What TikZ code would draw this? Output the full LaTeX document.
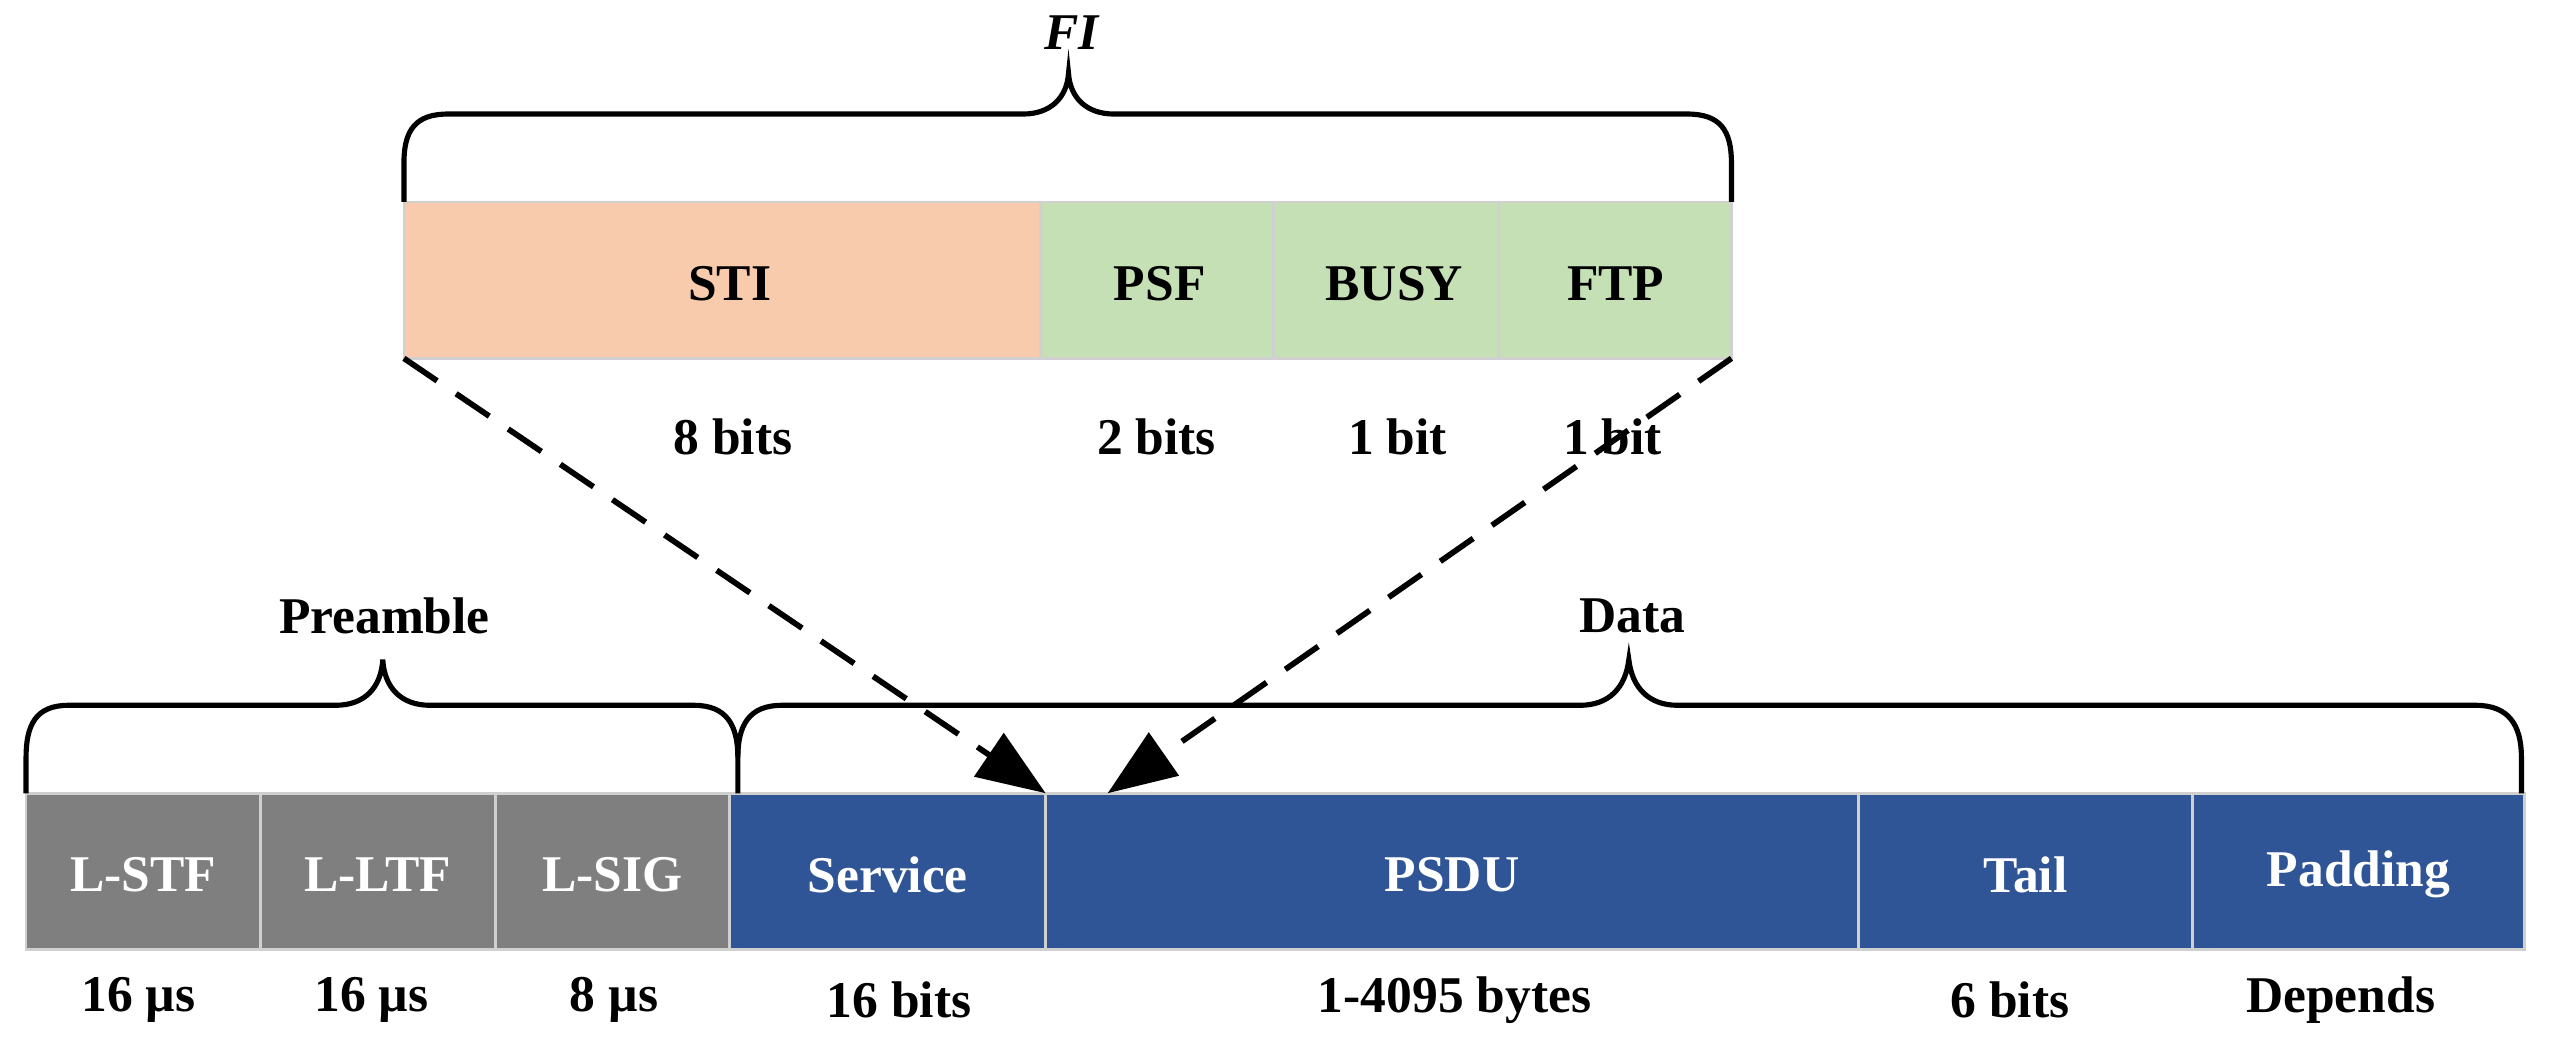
\documentclass[tikz,border=0pt]{standalone}
\usepackage{fontspec}
\setmainfont{Liberation Serif}
\usetikzlibrary{arrows.meta}
\definecolor{cgray}{HTML}{7F7F7F}
\definecolor{cblue}{HTML}{2F5597}
\definecolor{cpeach}{HTML}{F8CBAD}
\definecolor{cgreen}{HTML}{C5E0B4}
\definecolor{cedge}{HTML}{D0D0D0}
\begin{document}
\begin{tikzpicture}[x=0.1mm,y=-0.1mm,
  fld/.style={draw=cedge,line width=0.5pt},
  txt/.style={font=\fontsize{9}{11}\selectfont\bfseries},
  wtxt/.style={txt,text=white},
  br/.style={line width=0.9pt},
  dsh/.style={dashed,line width=1pt,dash pattern=on 7pt off 4pt,-{Triangle[length=12pt,width=9pt]}}]
\useasboundingbox (0,0) rectangle (1568,648);
% bottom row
\foreach \a/\b/\c/\t/\n in {16/160/cgray/L-STF/s1,160/304/cgray/L-LTF/s2,304/448/cgray/L-SIG/s3,448/642/cblue/Service/s4,642/1141/cblue/PSDU/s5,1141/1346/cblue/Tail/s6,1346/1550/cblue/Padding/s7}{
  \fill[\c] (\a,487) rectangle (\b,583);
  \draw[fld] (\a,487) rectangle (\b,583);
  \node[wtxt] (\n) at ({(\a+\b)/2},537) {\t};
}
\foreach \x/\t/\n in {85/16 µs/u1,228/16 µs/u2,377/8 µs/u3,552/16 bits/u4,893/1-4095 bytes/u5,1234/6 bits/u6,1437/Depends/u7}
  \node[txt] (\n) at (\x,614) {\t};
% top row
\fill[cpeach] (248,124) rectangle (639,220);
\fill[cgreen] (639,124) rectangle (1063,220);
\foreach \a/\b in {248/639,639/782,782/920,920/1063} \draw[fld] (\a,124) rectangle (\b,220);
\node[txt] (sti) at (448,174) {STI};
\node[txt] (psf) at (712,174) {PSF};
\node[txt] (busy) at (856,174) {BUSY};
\node[txt] (ftp) at (992,174) {FTP};
\node[txt] (b1) at (450,268) {8 bits};
\node[txt] (b2) at (710,268) {2 bits};
\node[txt] (b3) at (858,268) {1 bit};
\node[txt] (b4) at (990,268) {1 bit};
% braces
\draw[br] (248,124) -- (248,100) .. controls (248,80) and (255,70) .. (275,70) -- (628,70)
  .. controls (645,70) and (655,60) .. (656,45) .. controls (657,60) and (667,70) .. (684,70)
  -- (1036,70) .. controls (1056,70) and (1063,80) .. (1063,100) -- (1063,124);
\node[font=\fontsize{9}{11}\selectfont\bfseries\itshape] (fi) at (658,20) {FI};
\draw[br] (16,487) -- (16,465) .. controls (16,445) and (22,433) .. (42,433) -- (206,433)
  .. controls (224,433) and (234,422) .. (235,405) .. controls (236,422) and (246,433) .. (264,433)
  -- (426,433) .. controls (446,433) and (453,445) .. (453,465) -- (453,487);
\node[txt] (pre) at (236,378) {Preamble};
\draw[br] (453,465) .. controls (453,445) and (460,433) .. (480,433) -- (970,433)
  .. controls (988,433) and (998,422) .. (1000,405) .. controls (1002,422) and (1012,433) .. (1030,433)
  -- (1520,433) .. controls (1540,433) and (1548,445) .. (1548,465) -- (1548,487);
\node[txt] (dat) at (1002,378) {Data};
% arrows
\coordinate (p1) at (248,220);
\coordinate (p2) at (1063,220);
\coordinate (q1) at (642,487);
\coordinate (q2) at (680,487);
\draw[dsh] (p1) -- (q1);
\draw[dsh] (p2) -- (q2);
\end{tikzpicture}
\end{document}
